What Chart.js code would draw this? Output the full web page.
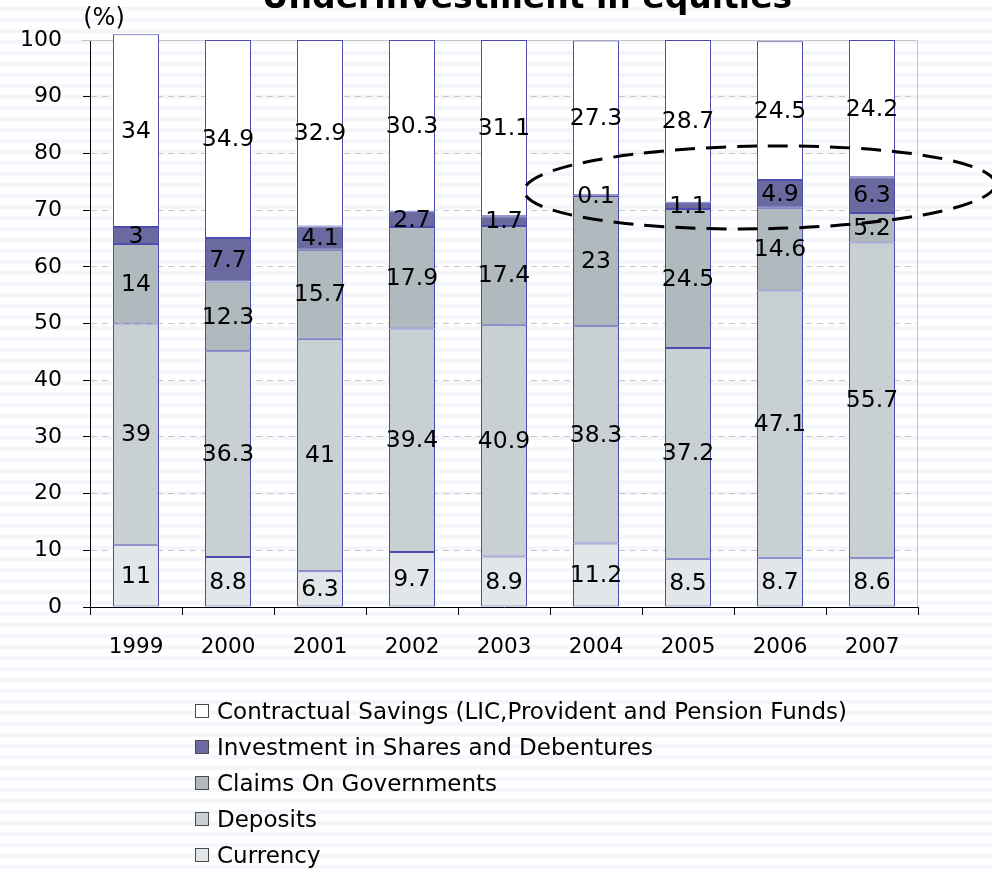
<!DOCTYPE html>
<html>
<head>
<meta charset="utf-8">
<title>Underinvestment in equities</title>
<script src="https://cdn.jsdelivr.net/npm/chart.js@4.4.1/dist/chart.umd.min.js"></script>
<style>
  html, body { margin: 0; padding: 0; }
  body {
    width: 992px;
    height: 869px;
    overflow: hidden;
    position: relative;
    /* faint striped slide background */
    background: repeating-linear-gradient(to bottom, #ffffff 0px, #ffffff 7px, #f5f5fc 7px, #f5f5fc 11px);
    font-family: "DejaVu Sans", Verdana, sans-serif;
  }
  #chart { position: absolute; left: 0; top: 0; }
  #legend {
    position: absolute;
    left: 195px;
    top: 693px;
    margin: 0;
    padding: 0;
    list-style: none;
    font-size: 23px;
    color: #000;
  }
  #legend li { height: 36px; display: flex; align-items: center; }
  #legend .box { width: 12px; height: 12px; border: 1px solid #4a4a4a; margin-right: 8px; }
</style>
</head>
<body>
<canvas id="chart" width="992" height="869"></canvas>
<ul id="legend"></ul>
<script>
const years = ['1999', '2000', '2001', '2002', '2003', '2004', '2005', '2006', '2007'];

// shares of household financial savings, %
const currency    = [11, 8.8, 6.3, 9.7, 8.9, 11.2, 8.5, 8.7, 8.6];
const deposits    = [39, 36.3, 41, 39.4, 40.9, 38.3, 37.2, 47.1, 55.7];
const claims      = [14, 12.3, 15.7, 17.9, 17.4, 23, 24.5, 14.6, 5.2];
const shares      = [3, 7.7, 4.1, 2.7, 1.7, 0.1, 1.1, 4.9, 6.3];
const contractual = [34, 34.9, 32.9, 30.3, 31.1, 27.3, 28.7, 24.5, 24.2];

const FONT = '"DejaVu Sans", Verdana, sans-serif';
const EDGE = '#4c4cae';

function series(label, data, color) {
  return {
    label: label,
    data: data,
    backgroundColor: color,
    borderColor: EDGE,
    borderWidth: 1,
    borderSkipped: false,
    clip: false
  };
}

// numbers printed in the middle of each stacked segment
const segmentLabels = {
  id: 'segmentLabels',
  afterDatasetsDraw(chart) {
    const ctx = chart.ctx;
    ctx.save();
    ctx.font = '23.5px ' + FONT;
    ctx.fillStyle = '#000';
    ctx.textAlign = 'center';
    ctx.textBaseline = 'middle';
    chart.data.datasets.forEach((ds, i) => {
      chart.getDatasetMeta(i).data.forEach((bar, j) => {
        ctx.fillText(String(ds.data[j]), bar.x, (bar.y + bar.base) / 2 + 1);
      });
    });
    ctx.restore();
  }
};

// solid top and right edges of the plot
const plotFrame = {
  id: 'plotFrame',
  beforeDatasetsDraw(chart) {
    const { ctx, chartArea: a } = chart;
    ctx.save();
    ctx.strokeStyle = '#c4c4c4';
    ctx.lineWidth = 1;
    ctx.beginPath();
    ctx.moveTo(a.left - 8, a.top + 0.5);
    ctx.lineTo(a.right - 0.5, a.top + 0.5);
    ctx.lineTo(a.right - 0.5, a.bottom);
    ctx.stroke();
    ctx.restore();
  }
};

// title, unit caption and the dashed ring around the shares segments
const ring = { x: 6.78, y: 74, rx: 2.56, ry: 7.3, tilt: -0.015 };

const decorations = {
  id: 'decorations',
  afterDraw(chart) {
    const ctx = chart.ctx;
    const xs = chart.scales.x, ys = chart.scales.y;
    const step = xs.getPixelForValue(1) - xs.getPixelForValue(0);
    const cx = xs.getPixelForValue(0) + ring.x * step;
    const cy = ys.getPixelForValue(ring.y);
    const rx = ring.rx * step;
    const ry = ys.getPixelForValue(0) - ys.getPixelForValue(ring.ry);

    ctx.save();
    ctx.strokeStyle = '#000';
    ctx.lineWidth = 3;
    ctx.setLineDash([20, 11]);
    ctx.beginPath();
    ctx.ellipse(cx, cy, rx, ry, ring.tilt, 0, Math.PI * 2);
    ctx.stroke();
    ctx.setLineDash([]);

    ctx.fillStyle = '#000';
    ctx.textAlign = 'center';
    ctx.textBaseline = 'alphabetic';
    ctx.font = 'bold 33px ' + FONT;
    ctx.fillText('Underinvestment in equities', 527, 8);

    ctx.font = '24px ' + FONT;
    ctx.textBaseline = 'middle';
    ctx.fillText('(%)', 104, 19);
    ctx.restore();
  }
};

const datasets = [
  series('Currency', currency, '#e2e6e8'),
  series('Deposits', deposits, '#c9d0d3'),
  series('Claims On Governments', claims, '#b0b9bd'),
  series('Investment in Shares and Debentures', shares, '#6a6aa0'),
  series('Contractual Savings (LIC,Provident and Pension Funds)', contractual, '#ffffff')
];

new Chart(document.getElementById('chart').getContext('2d'), {
  type: 'bar',
  data: { labels: years, datasets: datasets },
  options: {
    responsive: false,
    animation: false,
    layout: { padding: { left: 0, right: 74, top: 40, bottom: 179 } },
    datasets: { bar: { barPercentage: 0.5, categoryPercentage: 1, clip: false } },
    plugins: {
      legend: { display: false },
      tooltip: { enabled: false }
    },
    scales: {
      x: {
        stacked: true,
        grid: { drawOnChartArea: false, offset: true, tickLength: 8, tickColor: '#000' },
        border: { color: '#000', width: 1 },
        ticks: { color: '#000', font: { family: FONT, size: 21.5 }, padding: 20 },
        afterFit: s => { s.height = 83; }
      },
      y: {
        stacked: true,
        min: 0,
        max: 100,
        ticks: { stepSize: 10, color: '#000', font: { family: FONT, size: 22 }, padding: 21 },
        grid: {
          tickLength: 7,
          color: c => (c.tick && (c.tick.value === 0 || c.tick.value === 100)) ? 'rgba(0,0,0,0)' : '#c8c8c8',
          tickColor: c => (c.tick && c.tick.value === 100) ? '#aaaaaa' : '#000'
        },
        border: { color: '#000', width: 1, dash: [6, 5] },
        afterFit: s => { s.width = 90; }
      }
    }
  },
  plugins: [plotFrame, segmentLabels, decorations]
});

// legend listed top-down, last stack segment first
const legend = document.getElementById('legend');
datasets.slice().reverse().forEach(ds => {
  const li = document.createElement('li');
  const box = document.createElement('span');
  box.className = 'box';
  box.style.background = ds.backgroundColor;
  li.appendChild(box);
  li.appendChild(document.createTextNode(ds.label));
  legend.appendChild(li);
});
</script>
</body>
</html>
